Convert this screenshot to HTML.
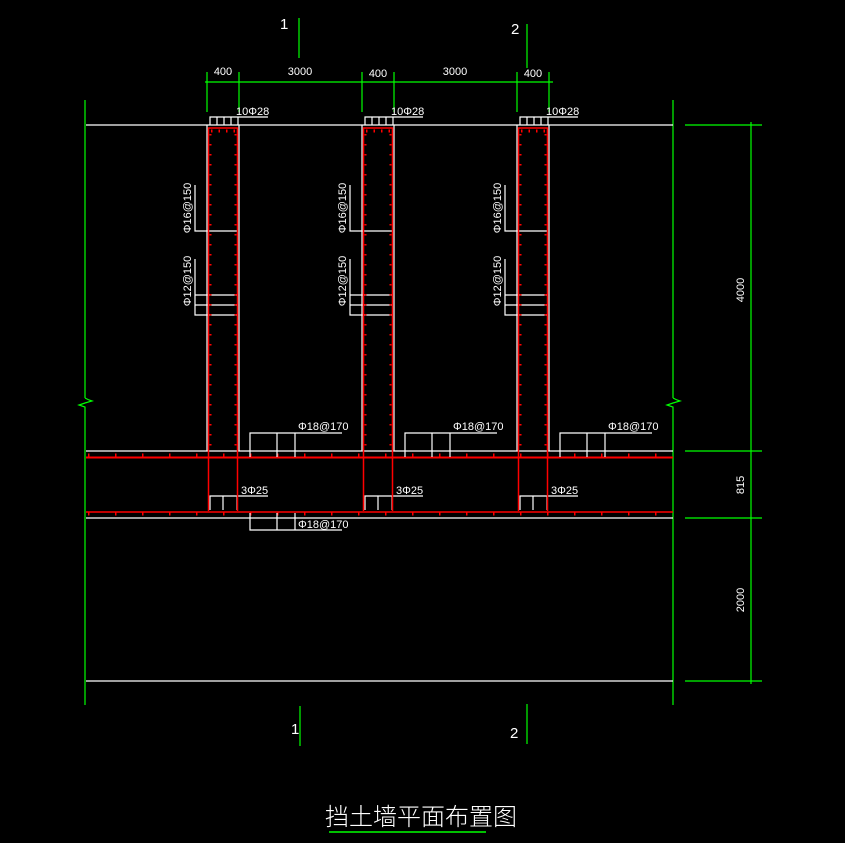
<!DOCTYPE html>
<html><head><meta charset="utf-8"><style>
html,body{margin:0;padding:0;background:#000;}
svg{display:block}
text{font-family:"Liberation Sans","Noto Sans CJK SC",sans-serif;fill:#fff;}
</style></head><body>
<svg width="845" height="843" viewBox="0 0 845 843" xmlns="http://www.w3.org/2000/svg">
<rect width="845" height="843" fill="#000"/>
<g stroke="#0f0" stroke-width="1.2">
<line x1="299" y1="18" x2="299" y2="58"/>
<line x1="527" y1="24" x2="527" y2="68"/>
<line x1="300" y1="706" x2="300" y2="746"/>
<line x1="527" y1="704" x2="527" y2="744"/>
</g>
<text x="280" y="29" font-size="15">1</text>
<text x="511" y="34" font-size="15">2</text>
<text x="291" y="734" font-size="15">1</text>
<text x="510" y="738" font-size="15">2</text>
<g stroke="#0f0" stroke-width="1.2">
<line x1="205" y1="82" x2="553" y2="82"/>
<line x1="207" y1="72" x2="207" y2="112"/>
<line x1="239" y1="72" x2="239" y2="112"/>
<line x1="362" y1="72" x2="362" y2="112"/>
<line x1="394" y1="72" x2="394" y2="112"/>
<line x1="517" y1="72" x2="517" y2="112"/>
<line x1="549" y1="72" x2="549" y2="112"/>
</g>
<g font-size="11" text-anchor="middle">
<text x="223" y="75">400</text>
<text x="300" y="75">3000</text>
<text x="378" y="77">400</text>
<text x="455" y="75">3000</text>
<text x="533" y="77">400</text>
</g>
<g stroke="#0f0" stroke-width="1.2" fill="none">
<line x1="85" y1="100" x2="85" y2="398"/>
<line x1="85" y1="408" x2="85" y2="705"/>
<polyline points="85,398 89,400 92,401 85,403 79,405 85,407 85,408"/>
<line x1="673" y1="100" x2="673" y2="398"/>
<line x1="673" y1="408" x2="673" y2="705"/>
<polyline points="673,398 677,400 680,401 673,403 667,405 673,407 673,408"/>
<line x1="751" y1="122" x2="751" y2="684"/>
<line x1="685" y1="125" x2="762" y2="125"/>
<line x1="685" y1="451" x2="762" y2="451"/>
<line x1="685" y1="518" x2="762" y2="518"/>
<line x1="685" y1="681" x2="762" y2="681"/>
</g>
<g font-size="11" text-anchor="middle">
<text transform="translate(744,290) rotate(-90)">4000</text>
<text transform="translate(744,485) rotate(-90)">815</text>
<text transform="translate(744,600) rotate(-90)">2000</text>
</g>
<g stroke="#fff" stroke-width="1.2">
<line x1="86" y1="125" x2="673" y2="125"/>
<line x1="86" y1="451" x2="673" y2="451"/>
<line x1="86" y1="518" x2="673" y2="518"/>
<line x1="86" y1="681" x2="673" y2="681"/>
</g>
<g stroke="#f00">
<line x1="86" y1="457.5" x2="673" y2="457.5" stroke-width="2"/>
<line x1="86" y1="512" x2="673" y2="512" stroke-width="1.5"/>
<line x1="88" y1="455" x2="673" y2="455" stroke-width="3" stroke-dasharray="1.5 25.5"/>
<line x1="88" y1="514" x2="673" y2="514" stroke-width="3" stroke-dasharray="1.5 25.5"/>
</g>
<g stroke="#fff" stroke-width="1.2" fill="none">
<polyline points="250,513 250,530 342,530"/>
<line x1="277" y1="513" x2="277" y2="530"/>
<line x1="295" y1="513" x2="295" y2="530"/>
</g>
<text x="298" y="528" font-size="11">Φ18@170</text>
<defs>
<g id="col">
<g stroke="#fff" stroke-width="1.2" fill="none">
<line x1="207" y1="125" x2="207" y2="451"/>
<line x1="239" y1="125" x2="239" y2="451"/>
<polyline points="210,125 210,117 268,117"/>
<line x1="217" y1="117" x2="217" y2="125"/>
<line x1="224" y1="117" x2="224" y2="125"/>
<line x1="231" y1="117" x2="231" y2="125"/>
<line x1="238" y1="117" x2="238" y2="125"/>
<polyline points="195,185 195,231 238,231"/>
<polyline points="195,259 195,315 238,315"/>
<line x1="195" y1="295" x2="238" y2="295"/>
<line x1="195" y1="305" x2="238" y2="305"/>
<polyline points="250,457 250,433 342,433"/>
<line x1="277" y1="433" x2="277" y2="457"/>
<line x1="295" y1="433" x2="295" y2="457"/>
<polyline points="210,510 210,496 268,496"/>
<line x1="223" y1="496" x2="223" y2="510"/>
<line x1="237" y1="496" x2="237" y2="510"/>
</g>
<g stroke="#f00" fill="none">
<polyline points="208.5,511 208.5,128 237.5,128 237.5,511" stroke-width="1.5"/>
<line x1="210.5" y1="134" x2="210.5" y2="450" stroke-width="2" stroke-dasharray="1.5 8.5"/>
<line x1="235.5" y1="134" x2="235.5" y2="450" stroke-width="2" stroke-dasharray="1.5 8.5"/>
<line x1="211" y1="131" x2="236" y2="131" stroke-width="3" stroke-dasharray="1.5 6"/>
</g>
<text x="236" y="115" font-size="11">10Φ28</text>
<text transform="translate(191,208) rotate(-90)" font-size="11" text-anchor="middle">Φ16@150</text>
<text transform="translate(191,281) rotate(-90)" font-size="11" text-anchor="middle">Φ12@150</text>
<text x="298" y="430" font-size="11">Φ18@170</text>
<text x="241" y="494" font-size="11">3Φ25</text>
</g>
</defs>
<use href="#col"/>
<use href="#col" transform="translate(155,0)"/>
<use href="#col" transform="translate(310,0)"/>
<text x="421" y="825" font-size="24" text-anchor="middle" font-family="'Noto Sans CJK SC',sans-serif" font-weight="300">挡土墙平面布置图</text>
<line x1="329" y1="832" x2="486" y2="832" stroke="#0f0" stroke-width="1.5"/>
</svg>
</body></html>
